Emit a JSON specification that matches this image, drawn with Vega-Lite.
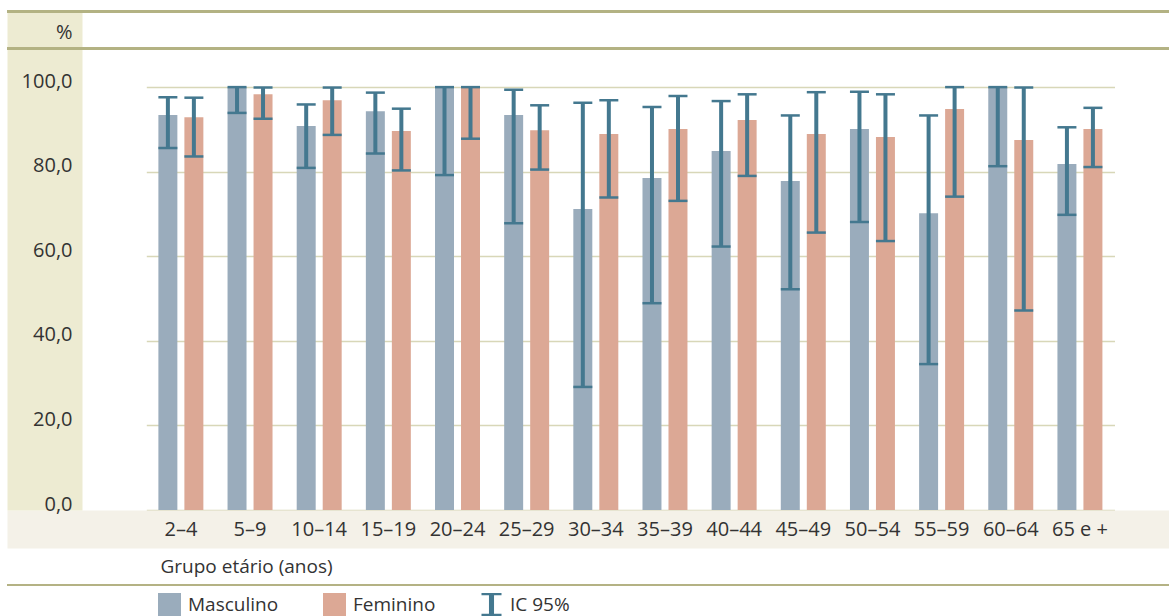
{
  "$schema": "https://vega.github.io/schema/vega-lite/v6.json",
  "autosize": {"type": "none"},
  "padding": {"left": 7, "top": 11, "right": 0, "bottom": 106},
  "width": 1162,
  "height": 499,
  "config": {
    "view": {"stroke": null},
    "font": "Open Sans",
    "axis": {"labelColor": "#333333", "titleColor": "#333333", "titleFontWeight": "normal"}
  },
  "data": {
    "values": [
      {"grupo": "2–4", "sexo": "Masculino", "valor": 93.4, "ic_inf": 85.6, "ic_sup": 97.6},
      {"grupo": "2–4", "sexo": "Feminino", "valor": 92.9, "ic_inf": 83.6, "ic_sup": 97.5},
      {"grupo": "5–9", "sexo": "Masculino", "valor": 100.0, "ic_inf": 93.9, "ic_sup": 100.0},
      {"grupo": "5–9", "sexo": "Feminino", "valor": 98.3, "ic_inf": 92.5, "ic_sup": 99.9},
      {"grupo": "10–14", "sexo": "Masculino", "valor": 90.8, "ic_inf": 80.9, "ic_sup": 95.9},
      {"grupo": "10–14", "sexo": "Feminino", "valor": 96.9, "ic_inf": 88.7, "ic_sup": 99.9},
      {"grupo": "15–19", "sexo": "Masculino", "valor": 94.3, "ic_inf": 84.3, "ic_sup": 98.7},
      {"grupo": "15–19", "sexo": "Feminino", "valor": 89.6, "ic_inf": 80.3, "ic_sup": 94.9},
      {"grupo": "20–24", "sexo": "Masculino", "valor": 100.0, "ic_inf": 79.2, "ic_sup": 100.0},
      {"grupo": "20–24", "sexo": "Feminino", "valor": 100.0, "ic_inf": 87.8, "ic_sup": 100.0},
      {"grupo": "25–29", "sexo": "Masculino", "valor": 93.4, "ic_inf": 67.8, "ic_sup": 99.4},
      {"grupo": "25–29", "sexo": "Feminino", "valor": 89.8, "ic_inf": 80.5, "ic_sup": 95.7},
      {"grupo": "30–34", "sexo": "Masculino", "valor": 71.2, "ic_inf": 29.1, "ic_sup": 96.3},
      {"grupo": "30–34", "sexo": "Feminino", "valor": 88.9, "ic_inf": 73.9, "ic_sup": 96.9},
      {"grupo": "35–39", "sexo": "Masculino", "valor": 78.5, "ic_inf": 48.9, "ic_sup": 95.3},
      {"grupo": "35–39", "sexo": "Feminino", "valor": 90.1, "ic_inf": 73.1, "ic_sup": 97.9},
      {"grupo": "40–44", "sexo": "Masculino", "valor": 84.9, "ic_inf": 62.3, "ic_sup": 96.7},
      {"grupo": "40–44", "sexo": "Feminino", "valor": 92.2, "ic_inf": 79.0, "ic_sup": 98.3},
      {"grupo": "45–49", "sexo": "Masculino", "valor": 77.8, "ic_inf": 52.2, "ic_sup": 93.3},
      {"grupo": "45–49", "sexo": "Feminino", "valor": 88.9, "ic_inf": 65.6, "ic_sup": 98.8},
      {"grupo": "50–54", "sexo": "Masculino", "valor": 90.1, "ic_inf": 68.1, "ic_sup": 98.9},
      {"grupo": "50–54", "sexo": "Feminino", "valor": 88.2, "ic_inf": 63.6, "ic_sup": 98.3},
      {"grupo": "55–59", "sexo": "Masculino", "valor": 70.2, "ic_inf": 34.5, "ic_sup": 93.3},
      {"grupo": "55–59", "sexo": "Feminino", "valor": 94.8, "ic_inf": 74.1, "ic_sup": 100.0},
      {"grupo": "60–64", "sexo": "Masculino", "valor": 100.0, "ic_inf": 81.3, "ic_sup": 100.0},
      {"grupo": "60–64", "sexo": "Feminino", "valor": 87.5, "ic_inf": 47.2, "ic_sup": 99.9},
      {"grupo": "65 e +", "sexo": "Masculino", "valor": 81.8, "ic_inf": 69.8, "ic_sup": 90.5},
      {"grupo": "65 e +", "sexo": "Feminino", "valor": 90.1, "ic_inf": 81.1, "ic_sup": 95.1}
    ]
  },
  "resolve": {
    "scale": {"x": "independent"},
    "axis": {"x": "independent", "y": "independent"}
  },
  "layer": [
    {
      "encoding": {
        "x": {
          "datum": 0,
          "type": "quantitative",
          "scale": {"domain": [0, 1], "nice": false, "zero": false},
          "axis": {
            "orient": "bottom",
            "title": null,
            "labels": false,
            "ticks": false,
            "grid": false,
            "offset": 19,
            "domainWidth": 38,
            "domainColor": "#f4f1e8"
          }
        },
        "x2": {"datum": 1}
      },
      "layer": [
        {
          "mark": {"type": "rule", "strokeWidth": 3, "color": "#b3b283"},
          "encoding": {
            "y": {
              "datum": 117.9,
              "type": "quantitative",
              "axis": {
                "orient": "left",
                "title": null,
                "labels": false,
                "ticks": false,
                "grid": false,
                "offset": -37.5,
                "domainWidth": 75,
                "domainColor": "#edebd2"
              }
            }
          }
        },
        {
          "mark": {"type": "rule", "strokeWidth": 2.5, "color": "#b3b283"},
          "encoding": {"y": {"datum": 109.06, "type": "quantitative"}}
        },
        {
          "mark": {"type": "rule", "strokeWidth": 1.2, "color": "#b3b283"},
          "encoding": {"y": {"datum": -17.73, "type": "quantitative"}}
        }
      ]
    },
    {
      "encoding": {
        "x": {
          "field": "grupo",
          "type": "nominal",
          "sort": null,
          "scale": {"range": [139.3, 1107.5], "paddingInner": 0, "paddingOuter": 0},
          "axis": {
            "orient": "bottom",
            "title": "Grupo etário (anos)",
            "titleFontSize": 19,
            "titleAnchor": "start",
            "titleAlign": "left",
            "titleBaseline": "alphabetic",
            "titleX": 153,
            "titleY": 43,
            "labelAngle": 0,
            "labelFontSize": 20,
            "labelBaseline": "middle",
            "labelPadding": 0,
            "ticks": false,
            "tickSize": 0,
            "offset": 19,
            "domain": false,
            "grid": false
          }
        },
        "xOffset": {
          "field": "sexo",
          "type": "nominal",
          "sort": ["Masculino", "Feminino"],
          "scale": {"paddingInner": 0.27, "paddingOuter": 0.465}
        }
      },
      "layer": [
        {
          "mark": {"type": "bar"},
          "encoding": {
            "y": {
              "field": "valor",
              "type": "quantitative",
              "scale": {"domain": [0, 118], "nice": false, "zero": true},
              "axis": {
                "orient": "left",
                "title": "%",
                "titleAngle": 0,
                "titleFontSize": 20,
                "titleAlign": "right",
                "titleBaseline": "alphabetic",
                "titleX": 65,
                "titleY": 27,
                "values": [0, 20, 40, 60, 80, 100],
                "labelExpr": "replace(format(datum.value, '.1f'), '.', ',')",
                "labelFontSize": 20,
                "labelAlign": "right",
                "labelBaseline": "alphabetic",
                "labelPadding": -65,
                "ticks": false,
                "tickSize": 0,
                "domain": false,
                "grid": true,
                "gridColor": "#d8d7b8",
                "gridWidth": 1.5
              }
            },
            "color": {
              "field": "sexo",
              "type": "nominal",
              "scale": {
                "domain": ["Masculino", "Feminino", "IC 95%"],
                "range": ["#9aacbc", "#dca895", "#44788f"]
              },
              "legend": {
                "title": null,
                "orient": "none",
                "direction": "horizontal",
                "legendX": 151,
                "legendY": 582,
                "padding": 0,
                "labelFontSize": 19,
                "labelColor": "#333333",
                "labelOffset": 7,
                "columnPadding": 44,
                "symbolSize": 529,
                "symbolType": "square",
                "symbolStrokeWidth": 0,
                "symbolOpacity": 1,
                "encode": {
                  "symbols": {
                    "update": {
                      "shape": {"signal": "datum.value === 'IC 95%' ? 'M-0.87,-1H0.87V-0.8H0.22V0.8H0.87V1H-0.87V0.8H-0.22V-0.8H-0.87Z' : 'square'"},
                      "fill": {"scale": "color", "field": "value"},
                      "stroke": {"value": "transparent"},
                      "opacity": {"value": 1}
                    }
                  }
                }
              }
            }
          }
        },
        {
          "mark": {"type": "rule", "strokeWidth": 4},
          "encoding": {
            "y": {"field": "ic_inf", "type": "quantitative"},
            "y2": {"field": "ic_sup"},
            "color": {"datum": "IC 95%"}
          }
        },
        {
          "mark": {"type": "tick", "thickness": 2.5, "size": 19, "opacity": 1},
          "encoding": {
            "y": {"field": "ic_inf", "type": "quantitative"},
            "color": {"datum": "IC 95%"}
          }
        },
        {
          "mark": {"type": "tick", "thickness": 2.5, "size": 19, "opacity": 1},
          "encoding": {
            "y": {"field": "ic_sup", "type": "quantitative"},
            "color": {"datum": "IC 95%"}
          }
        }
      ]
    }
  ]
}
